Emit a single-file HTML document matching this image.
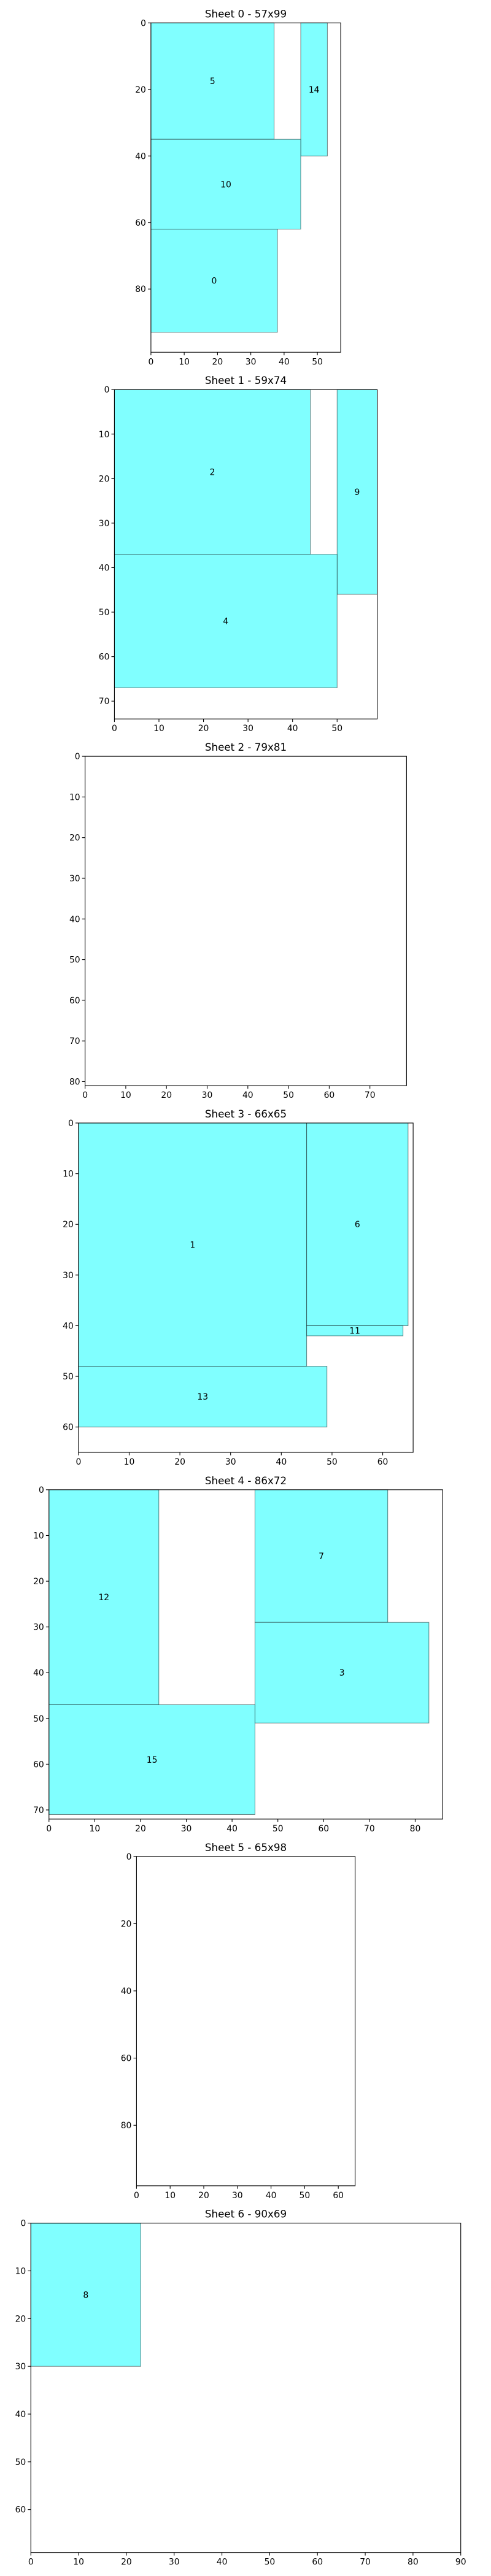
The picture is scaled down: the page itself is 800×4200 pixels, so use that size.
<!DOCTYPE html>
<html><head><meta charset="utf-8"><style>
html,body{margin:0;padding:0;background:#fff;}
svg{display:block;}
text{font-family:"DejaVu Sans","Liberation Sans",sans-serif;fill:#000;}
</style></head><body>
<svg id="fig" width="800" height="4200" viewBox="0 0 800 4200" xmlns="http://www.w3.org/2000/svg"></svg>
<script>
// Sheet sizes [width, height]
const sheetW = [57, 59, 79, 66, 86, 65, 90];
const sheetH = [99, 74, 81, 65, 72, 98, 69];
// Pieces per sheet: ids, x, y, w, h
const pieceIds = [[5,14,10,0],[2,9,4],[],[1,6,11,13],[12,7,3,15],[],[8]];
const pieceX = [[0,45,0,0],[0,50,0],[],[0,45,45,0],[0,45,45,0],[],[0]];
const pieceY = [[0,0,35,62],[0,0,37],[],[0,0,40,48],[0,0,29,47],[],[0]];
const pieceW = [[37,8,45,38],[44,9,50],[],[45,20,19,49],[24,29,38,45],[],[23]];
const pieceH = [[35,40,27,31],[37,46,30],[],[48,40,2,12],[47,29,22,24],[],[30]];
// Tick steps
const xTickStep = [10,10,10,10,10,10,10];
const yTickStep = [20,10,10,10,10,20,10];

const NS = "http://www.w3.org/2000/svg";
const svg = document.getElementById("fig");
function mk(tag, attrs, parent){
  const e = document.createElementNS(NS, tag);
  for (const k in attrs) e.setAttribute(k, attrs[k]);
  (parent||svg).appendChild(e);
  return e;
}
const AX_H = 537, TOP0 = 37.3, PERIOD = 597.9, CX = 400.5;

for (let s = 0; s < sheetW.length; s++) {
  const W = sheetW[s], H = sheetH[s];
  const k = AX_H / H;
  const axW = W * k;
  const left = CX - axW / 2, top = TOP0 + s * PERIOD, bottom = top + AX_H, right = left + axW;
  const sx = v => left + v * k;
  const sy = v => top + v * k;

  const g = mk("g", {});
  
  

  const title = mk("text", {x: (left+right)/2, y: top - 9, "text-anchor": "middle", "font-size": "16.7"}, g);
  title.textContent = "Sheet " + s + " - " + W + "x" + H;
  
  

  for (let i = 0; i < pieceIds[s].length; i++) {
    const r = mk("rect", {x: sx(pieceX[s][i]), y: sy(pieceY[s][i]), width: pieceW[s][i]*k, height: pieceH[s][i]*k,
      fill: "#80ffff", stroke: "rgba(0,0,0,0.5)", "stroke-width": "1"}, g);
    
    
    const t = mk("text", {x: sx(pieceX[s][i] + pieceW[s][i]/2), y: sy(pieceY[s][i] + pieceH[s][i]/2) + 5,
      "text-anchor": "middle", "font-size": "13.9"}, g);
    t.textContent = pieceIds[s][i];
    
    
  }

  const frame = mk("rect", {x: left, y: top, width: axW, height: AX_H, fill: "none", stroke: "#000", "stroke-width": "1.1"}, g);
  
  

  for (let v = 0; v <= W; v += xTickStep[s]) {
    const x = sx(v);
    mk("line", {x1: x, y1: bottom, x2: x, y2: bottom + 4.9, stroke: "#000", "stroke-width": "1.1"}, g);
    const t = mk("text", {x: x, y: bottom + 20, "text-anchor": "middle", "font-size": "13.9"}, g);
    t.textContent = v;
    
    
  }
  for (let v = 0; v <= H; v += yTickStep[s]) {
    const y = sy(v);
    mk("line", {x1: left - 4.9, y1: y, x2: left, y2: y, stroke: "#000", "stroke-width": "1.1"}, g);
    const t = mk("text", {x: left - 8, y: y + 5, "text-anchor": "end", "font-size": "13.9"}, g);
    t.textContent = v;
    
    
  }
}
</script>
</body></html>
